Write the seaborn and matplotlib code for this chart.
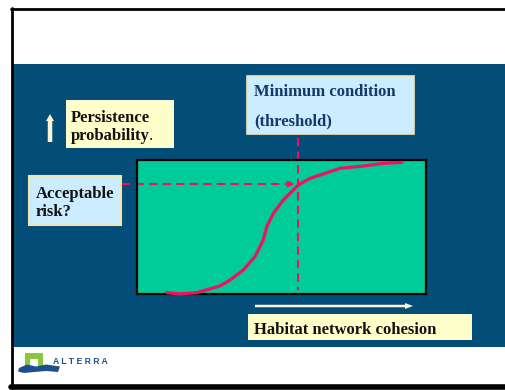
import matplotlib
matplotlib.use('Agg')
import matplotlib.pyplot as plt
from matplotlib.patches import Rectangle, FancyArrow, Polygon
import seaborn as sns

# ── Data (normalised to the green panel) ──
cohesion    = [0.103, 0.149, 0.207, 0.287, 0.322, 0.368, 0.408, 0.437, 0.449,
               0.472, 0.506, 0.558, 0.599, 0.645, 0.702, 0.783, 0.852, 0.916]
persistence = [0.010, 0.000, 0.010, 0.060, 0.104, 0.179, 0.278, 0.403, 0.502,
               0.602, 0.701, 0.813, 0.863, 0.896, 0.938, 0.955, 0.975, 0.983]
threshold       = 0.557
acceptable_risk = 0.821

y_label     = ['Persistence', 'probability']
x_label     = 'Habitat network cohesion'
thresh_text = ['Minimum condition', '(threshold)']
risk_text   = ['Acceptable', 'risk?']
logo_text   = 'A L T E R R A'

# ── Colours ──
NAVY   = '#024E78'
GREEN  = '#00CC99'
PINK   = '#F2105E'
YELLOW = '#FFFFCC'
LBLUE  = '#CCECFF'
CREAM  = '#FFF3D6'

sns.set_theme(style='white')
plt.rcParams['font.family'] = ['Liberation Serif', 'DejaVu Serif']

W, H = 506, 390
fig = plt.figure(figsize=(W / 100, H / 100), dpi=100)
fig.patch.set_facecolor('white')

# background axes in pixel coordinates (slide layout)
bg = fig.add_axes([0, 0, 1, 1])
bg.set_xlim(0, W)
bg.set_ylim(H, 0)
bg.axis('off')

# slide frame + blue band
bg.add_patch(Rectangle((13, 64), W - 13, 283, fc=NAVY, ec='none'))
bg.plot([11, W], [9, 9], color='black', lw=2)
bg.plot([12, 12], [8, 388], color='black', lw=2)
bg.plot([11, W], [387, 387], color='black', lw=4)

# ── Green panel with the S-curve ──
px0, py0, pw, ph = 137, 160, 289, 134
ax = fig.add_axes([px0 / W, 1 - (py0 + ph) / H, pw / W, ph / H])
ax.set_facecolor(GREEN)
ax.set_xlim(0, 1)
ax.set_ylim(0, 1)
ax.set_xticks([])
ax.set_yticks([])
for s in ax.spines.values():
    s.set_color('black')
    s.set_linewidth(1.6)
    s.set_visible(True)

sns.lineplot(x=cohesion, y=persistence, ax=ax, color=PINK, lw=2.3,
             sort=False, clip_on=False, zorder=5)

# dashed guide lines
ax.plot([-0.052, threshold - 0.03], [acceptable_risk, acceptable_risk],
        color=PINK, lw=1.5, ls=(0, (4, 2.5)), clip_on=False)
ax.annotate('', xy=(threshold - 0.012, acceptable_risk),
            xytext=(threshold - 0.04, acceptable_risk),
            arrowprops=dict(arrowstyle='-|>', color=PINK, lw=1.5,
                            mutation_scale=8, shrinkA=0, shrinkB=0),
            annotation_clip=False)
ax.plot([threshold, threshold], [1.164, 0.03], color=PINK, lw=1.5,
        ls=(0, (4, 2.5)), clip_on=False)

# ── Text boxes ──
fs = 12
# persistence probability
bg.add_patch(Rectangle((66, 100), 108, 48, fc=YELLOW, ec='none'))
bg.text(71, 121.5, y_label[0], fontsize=fs, fontweight='bold', color='#111111',
        va='baseline', ha='left')
t = bg.text(71, 140.5, y_label[1], fontsize=fs, fontweight='bold', color='#111111',
            va='baseline', ha='left')
bg.annotate('.', xy=(1, 0), xycoords=t, xytext=(-1, 0), textcoords='offset points',
            fontsize=fs, color='#111111', va='bottom', ha='left')
bg.add_patch(FancyArrow(50, 142, 0, -28, width=4.5, head_width=8, head_length=7,
                        length_includes_head=True, fc=CREAM, ec='none'))

# minimum condition
bg.add_patch(Rectangle((247, 76), 167, 58, fc=LBLUE, ec='#F3E3B0', lw=1.2))
bg.text(254, 96.5, thresh_text[0], fontsize=fs, fontweight='bold', color='#14386A',
        va='baseline', ha='left')
bg.text(254, 125.5, thresh_text[1], fontsize=fs, fontweight='bold', color='#14386A',
        va='baseline', ha='left')

# acceptable risk
bg.add_patch(Rectangle((29, 176), 92, 49, fc=LBLUE, ec='#F3E3B0', lw=1.5))
bg.text(36, 198, risk_text[0], fontsize=fs, fontweight='bold', color='#111111',
        va='baseline', ha='left')
bg.text(36, 215.5, risk_text[1], fontsize=fs, fontweight='bold', color='#111111',
        va='baseline', ha='left')

# habitat network cohesion
bg.add_patch(FancyArrow(255, 306, 158, 0, width=2.5, head_width=6, head_length=8,
                        length_includes_head=True, fc=CREAM, ec='none'))
bg.add_patch(Rectangle((248, 314), 224, 26, fc=YELLOW, ec='none'))
bg.text(254, 334, x_label, fontsize=fs, fontweight='bold', color='#111111',
        va='baseline', ha='left')

# ── ALTERRA logo ──
bg.add_patch(Polygon([(25, 353), (43, 353), (43, 367), (38, 367), (38, 359),
                      (30, 359), (30, 367), (25, 367)], closed=True,
                     fc='#8CC63F', ec='none'))
bg.add_patch(Polygon([(19, 368), (27, 364.5), (36, 366.5), (46, 364.5), (60, 366.5),
                      (58, 372), (46, 371), (34, 372), (24, 373), (18, 371.5)],
                     closed=True, fc='#1D4F8C', ec='none'))
bg.text(53, 364, logo_text, fontsize=6.2, fontweight='bold', color='#1D4F8C',
        family=['Liberation Sans', 'DejaVu Sans'], va='baseline', ha='left')

fig.savefig('out.png', dpi=100)
